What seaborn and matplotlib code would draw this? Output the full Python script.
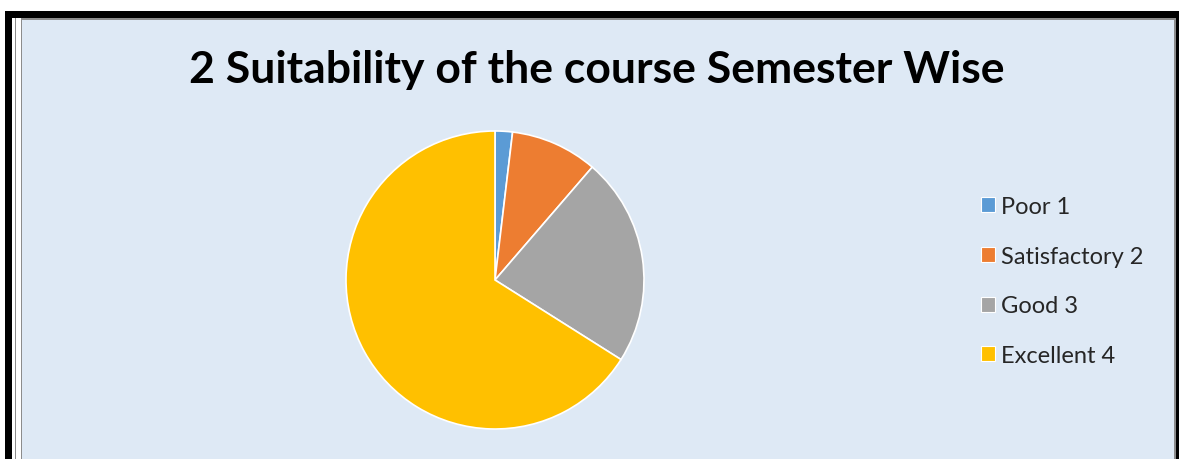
import matplotlib

matplotlib.use("Agg")
import matplotlib.pyplot as plt
import seaborn as sns
from matplotlib.patches import Patch, Rectangle

sns.set_theme(style="white")
plt.rcParams["font.family"] = ["Lato", "DejaVu Sans"]

# --- data ---------------------------------------------------------------
labels = ["Poor 1", "Satisfactory 2", "Good 3", "Excellent 4"]
counts = [1, 5, 12, 35]
colors = ["#5B9BD5", "#ED7D31", "#A5A5A5", "#FFC000"]
title = "2 Suitability of the course Semester Wise"

W, H = 1179, 460
BG = "#DEE9F5"

fig = plt.figure(figsize=(W / 100, H / 100), dpi=100, facecolor="white")


def px_rect(x0, y0, x1, y1, color, z=0):
    # pixel box (top-left origin) -> figure rectangle
    fig.add_artist(Rectangle((x0 / W, 1 - y1 / H), (x1 - x0) / W, (y1 - y0) / H,
                             transform=fig.transFigure, facecolor=color,
                             edgecolor="none", zorder=z))


# frame: black outer border, thin grey inner lines, blue chart area
px_rect(5, 12, W, H, "black")
px_rect(12, 19, 1176, H, "white")
px_rect(15, 19, 16, H, "#8C8C8C")
px_rect(21, 19, 1176, H, "#8C8C8C")
px_rect(22, 21, 1174, H, BG)

# pie
cx, cy, r = 495, 281, 149
ax = fig.add_axes([(cx - r) / W, 1 - (cy + r) / H, 2 * r / W, 2 * r / H])
ax.set_zorder(2)
ax.pie(counts, colors=colors, startangle=90, counterclock=False,
       wedgeprops=dict(edgecolor="white", linewidth=1.2))
ax.set_xlim(-1.0, 1.0)
ax.set_ylim(-1.0, 1.0)
ax.set_aspect("equal")
ax.axis("off")
for p in ax.patches:
    p.set_clip_on(False)

fig.text(597 / W, 1 - 70 / H, title, ha="center", va="center",
         fontsize=32, fontweight="bold", color="black", zorder=3)

handles = [Patch(facecolor=c, edgecolor="white", linewidth=0.8) for c in colors]
leg = fig.legend(handles, labels, loc="center left",
                 bbox_to_anchor=(960 / W, 1 - 282 / H), frameon=False,
                 fontsize=17, handlelength=0.6, handleheight=0.6,
                 handletextpad=0.25, labelspacing=1.22)
leg.set_zorder(3)

fig.savefig("out.png", dpi=100, facecolor="white")
